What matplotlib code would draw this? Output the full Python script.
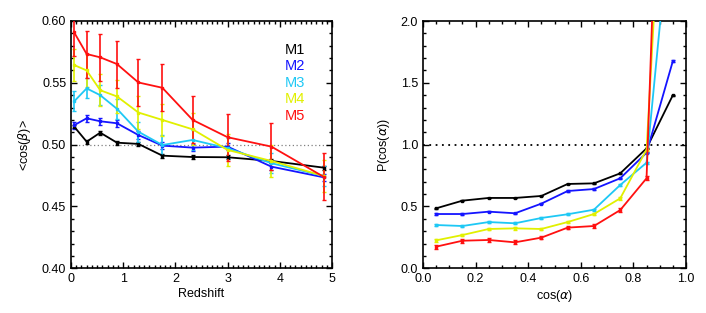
import matplotlib
matplotlib.use("Agg")
import matplotlib.pyplot as plt
from matplotlib.ticker import MultipleLocator

plt.rcParams['font.family'] = ['Liberation Sans', 'DejaVu Sans']
plt.rcParams['mathtext.fontset'] = 'dejavusans'

# ---- Left panel data ----
redshift = [0.06, 0.30, 0.56, 0.88, 1.29, 1.75, 2.33, 3.00, 3.84, 4.84]
beta_m1 = [0.5146, 0.5024, 0.5097, 0.5016, 0.5006, 0.4911, 0.4900, 0.4898, 0.4868, 0.4814]
beta_m2 = [0.5157, 0.5213, 0.5189, 0.5173, 0.5078, 0.4992, 0.4976, 0.4984, 0.4822, 0.4736]
beta_m3 = [0.5350, 0.5455, 0.5400, 0.5290, 0.5105, 0.4997, 0.5038, 0.4971, 0.4850, 0.4747]
beta_m4 = [0.5644, 0.5600, 0.5440, 0.5390, 0.5260, 0.5200, 0.5124, 0.4957, 0.4868, 0.4747]
beta_m5 = [0.5908, 0.5733, 0.5706, 0.5652, 0.5503, 0.5460, 0.5200, 0.5060, 0.4984, 0.4740]
beta_err = [0.0015, 0.003, 0.008, 0.013, 0.019]

# ---- Right panel data ----
cos_alpha = [0.05, 0.15, 0.25, 0.35, 0.45, 0.55, 0.65, 0.75, 0.85, 0.95]
p_m1 = [0.485, 0.547, 0.569, 0.569, 0.585, 0.682, 0.687, 0.768, 0.970, 1.400]
p_m2 = [0.439, 0.439, 0.458, 0.445, 0.523, 0.625, 0.641, 0.728, 0.935, 1.676]
p_m3 = [0.350, 0.342, 0.374, 0.364, 0.407, 0.437, 0.474, 0.674, 0.854, 3.05]
p_m4 = [0.226, 0.269, 0.318, 0.323, 0.318, 0.374, 0.439, 0.566, 0.960, 4.80]
p_m5 = [0.175, 0.223, 0.229, 0.210, 0.248, 0.329, 0.342, 0.471, 0.728, 6.80]
p_err = [0.003, 0.005, 0.008, 0.010, 0.015]

labels = ['M1', 'M2', 'M3', 'M4', 'M5']
colors = ['black', '#1414ff', '#1ec8f5', '#e1f000', '#ff1010']

fig = plt.figure(figsize=(7.06, 3.13), dpi=100)
ax1 = fig.add_axes([71/706, 1 - 268.3/313, 261/706, 247.3/313])
ax2 = fig.add_axes([423/706, 1 - 268.3/313, 263/706, 247.3/313])

for ax in (ax1, ax2):
    ax.tick_params(which='both', direction='in', top=True, right=True, labelsize=9, width=1)
    ax.tick_params(which='major', length=4)
    ax.tick_params(which='minor', length=2)
    for s in ax.spines.values():
        s.set_linewidth(1.2)

# Left panel
ax1.axhline(0.5, color='gray', ls=(0, (1, 2)), lw=0.9, zorder=1)
for ys, e, c in zip([beta_m1, beta_m2, beta_m3, beta_m4, beta_m5], beta_err, colors):
    ax1.errorbar(redshift, ys, yerr=e, color=c, lw=1.3, elinewidth=1.2, capsize=1.5,
                 marker='s', ms=1.6, zorder=3)
ax1.set_xlim(0, 5)
ax1.set_ylim(0.40, 0.60)
ax1.xaxis.set_major_locator(MultipleLocator(1))
ax1.xaxis.set_minor_locator(MultipleLocator(0.1))
ax1.yaxis.set_major_locator(MultipleLocator(0.05))
ax1.yaxis.set_minor_locator(MultipleLocator(0.01))
ax1.yaxis.set_major_formatter(plt.FormatStrFormatter('%.2f'))
ax1.set_xlabel('Redshift', fontsize=9, labelpad=2)
ax1.set_ylabel(r'<cos($\beta$)>', fontsize=9, labelpad=6)
for i, (lab, c) in enumerate(zip(labels, colors)):
    ax1.text(0.82, 0.883 - i * 0.0667, lab, color=c, fontsize=10.5,
             transform=ax1.transAxes, va='center', ha='left')

# Right panel
ax2.axhline(1.0, color='black', ls=(0, (1, 2.5)), lw=1.3, zorder=1)
for ys, e, c in zip([p_m1, p_m2, p_m3, p_m4, p_m5], p_err, colors):
    ax2.errorbar(cos_alpha, ys, yerr=e, color=c, lw=1.3, elinewidth=1.2, capsize=1.5,
                 marker='s', ms=1.6, zorder=3)
ax2.set_xlim(0, 1)
ax2.set_ylim(0, 2)
ax2.xaxis.set_major_locator(MultipleLocator(0.2))
ax2.xaxis.set_minor_locator(MultipleLocator(0.05))
ax2.yaxis.set_major_locator(MultipleLocator(0.5))
ax2.yaxis.set_minor_locator(MultipleLocator(0.1))
ax2.xaxis.set_major_formatter(plt.FormatStrFormatter('%.1f'))
ax2.yaxis.set_major_formatter(plt.FormatStrFormatter('%.1f'))
ax2.set_xlabel(r'cos($\alpha$)', fontsize=9, labelpad=2)
ax2.set_ylabel(r'P(cos($\alpha$))', fontsize=9, labelpad=6)

fig.savefig('out.png', dpi=100)
